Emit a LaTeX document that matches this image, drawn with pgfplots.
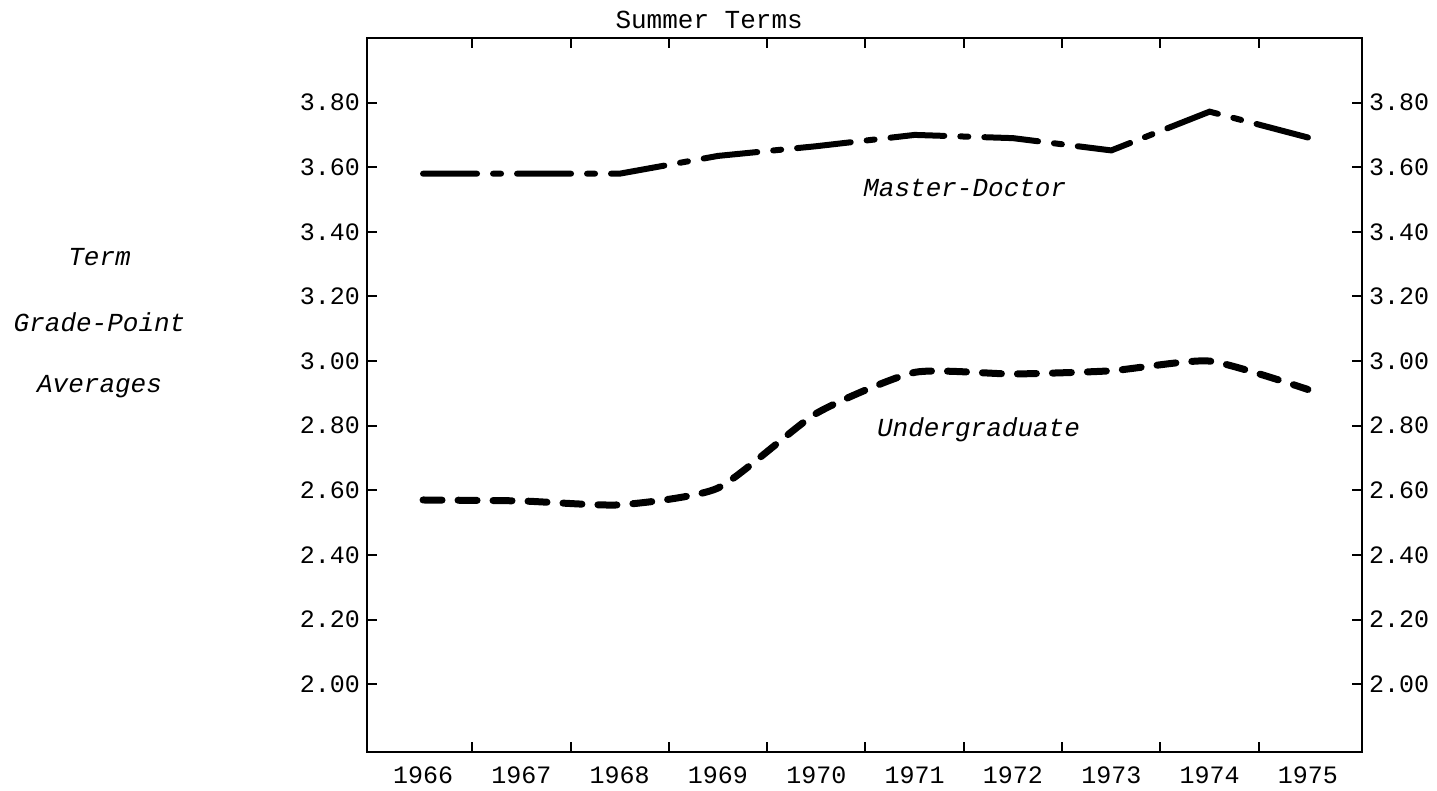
\documentclass[border=0pt]{standalone}
\usepackage{fontspec}
\setmainfont{Liberation Mono}
\usepackage{pgfplots}
\pgfplotsset{compat=1.18}

\pgfplotsset{
  gpa/.style={
    scale only axis, width=497.5pt, height=357pt,
    xmin=-0.57, xmax=9.55, ymin=1.79, ymax=4.0,
    axis line style={line width=1pt},
    tick style={line width=1pt, black},
    major tick length=5pt, tick align=inside,
    ytick={2.0,2.2,2.4,2.6,2.8,3.0,3.2,3.4,3.6,3.8},
    yticklabels={2.00,2.20,2.40,2.60,2.80,3.00,3.20,3.40,3.60,3.80},
    /pgf/number format/assume math mode=true,
    ticklabel style={font=\fontsize{12.5}{15}\selectfont},
    clip=false,
  }
}

\begin{document}
\begin{tikzpicture}
\useasboundingbox (-183.5pt,-19.5pt) rectangle (535pt,376pt);
\begin{axis}[gpa, at={(0,0)}, anchor=south west,
  xtick={0.5,1.5,...,8.5}, xticklabels={},
  extra x ticks={0,1,2,3,4,5,6,7,8,9},
  extra x tick labels={1966,1967,1968,1969,1970,1971,1972,1973,1974,1975},
  extra x tick style={major tick length=0pt, xticklabel style={yshift=-4pt}},
  ytick pos=left]

% Master-Doctor
\addplot[black, line width=3pt, line cap=round,
  dash pattern=on 27pt off 8pt on 4pt off 8pt] coordinates {
(0,3.58) (1,3.58) (2,3.58) (3,3.635) (4,3.665)
(5,3.70) (6,3.69) (7,3.652) (8,3.772) (9,3.692)
};

% Undergraduate
\addplot[black, line width=3.5pt, line cap=round, smooth, tension=0.35,
  dash pattern=on 9.5pt off 8pt] coordinates {
(0,2.57) (1,2.567) (2,2.555) (3,2.607) (4,2.838)
(5,2.965) (6,2.96) (7,2.97) (8,3.0) (9,2.912)
};

\node[font=\fontsize{13}{15}\selectfont\itshape] at (axis cs:5.51,3.535) {Master-Doctor};
\node[font=\fontsize{13}{15}\selectfont\itshape] at (axis cs:5.65,2.786) {Undergraduate};
\node[font=\fontsize{13}{15}\selectfont] at (axis cs:2.91,4.056) {Summer Terms};
\node[font=\fontsize{13}{15}\selectfont\itshape] at (axis cs:-3.29,3.322) {Term};
\node[font=\fontsize{13}{15}\selectfont\itshape] at (axis cs:-3.29,3.121) {Grade-Point};
\node[font=\fontsize{13}{15}\selectfont\itshape] at (axis cs:-3.29,2.920) {Averages};
\end{axis}

\begin{axis}[gpa, at={(0,0)}, anchor=south west,
  hide x axis, yticklabel pos=right, ytick pos=right]
\end{axis}
\end{tikzpicture}
\end{document}
